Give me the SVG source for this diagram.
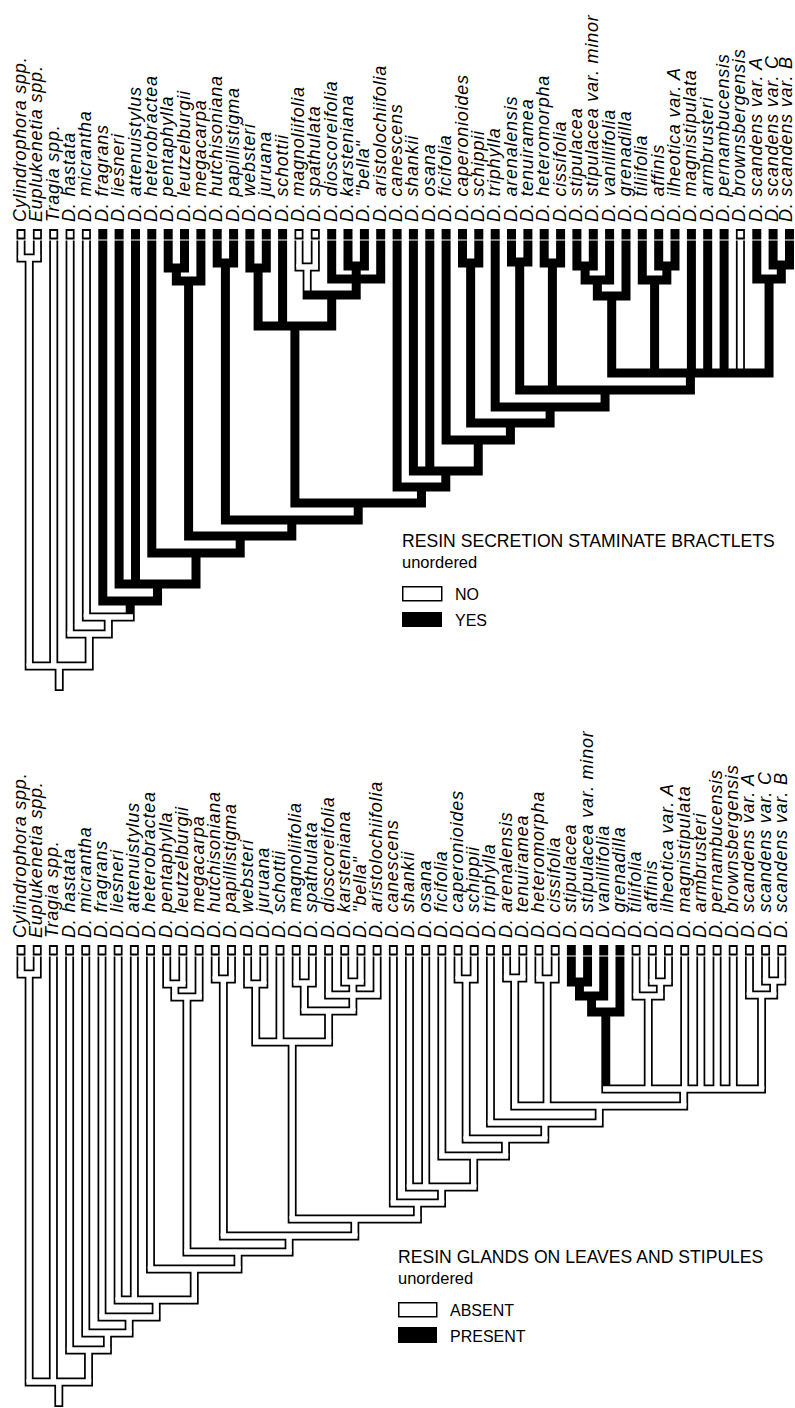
<svg xmlns="http://www.w3.org/2000/svg" width="795" height="1408" viewBox="0 0 795 1408">
<style>
.k{fill:none;stroke:#000;stroke-width:9;stroke-linecap:square}
.w{fill:none;stroke:#fff;stroke-width:5.5;stroke-linecap:butt}
.wb{fill:none;stroke:#fff;stroke-width:5.5;stroke-linecap:square}
.gap{fill:none;stroke:#fff;stroke-width:1.2}
.lab{font-family:"Liberation Sans",Arial,sans-serif;font-style:italic;font-size:18px;letter-spacing:0.8px;fill:#000}
.lt{font-family:"Liberation Sans",Arial,sans-serif;font-size:17.6px;fill:#000}
.lu{font-family:"Liberation Sans",Arial,sans-serif;font-size:16.5px;fill:#000}
.ls{font-family:"Liberation Sans",Arial,sans-serif;font-size:16px;fill:#000}
.bx{fill:#fff;stroke:#000;stroke-width:1.5}
</style>
<defs>
<path id="geom" class="k" d="M21,233.5V258M37.4,233.5V258M53.7,233.5V666M70.1,233.5V634M86.4,233.5V617M102.8,233.5V601M119.1,233.5V584M135.5,233.5V584M151.8,233.5V553M168.2,233.5V268M184.5,233.5V268M200.9,233.5V281M217.2,233.5V263M233.6,233.5V263M249.9,233.5V268M266.3,233.5V268M282.6,233.5V326M299,233.5V267M315.3,233.5V267M331.7,233.5V279M348,233.5V266M364.4,233.5V266M380.7,233.5V279M397.1,233.5V487M413.4,233.5V471M429.8,233.5V471M446.1,233.5V440M462.5,233.5V263M478.8,233.5V263M495.2,233.5V407M511.5,233.5V262M527.9,233.5V262M544.2,233.5V263M560.6,233.5V263M576.9,233.5V266M593.3,233.5V266M609.6,233.5V280M626,233.5V296M642.3,233.5V280M658.7,233.5V266M675,233.5V266M691.4,233.5V373M707.7,233.5V373M724.1,233.5V373M740.4,233.5V373M756.8,233.5V279M773.1,233.5V265M789.5,233.5V265
M21,258H37.4M29.2,258V666M168.2,268H184.5M176.35,268V281M176.35,281H200.9M188.6,281V536M217.2,263H233.6M225.4,263V520M249.9,268H266.3M258.1,268V326M299,267H315.3M307.15,267V295M348,266H364.4M356.2,266V279M331.7,279H380.7M356.2,279V295M307.15,295H356.2M331.7,295V326M258.1,326H331.7M294.9,326V503M462.5,263H478.8M470.65,263V423M511.5,262H527.9M519.7,262V390M544.2,263H560.6M552.4,263V390M576.9,266H593.3M585.1,266V280M585.1,280H609.6M597.35,280V296M597.35,296H626M611.7,296V373M658.7,266H675M666.85,266V280M642.3,280H666.85M654.6,280V373M773.1,265H789.5M781.3,265V279M756.8,279H781.3M769.05,279V373M611.7,373H769.05M690.4,373V390M519.7,390H690.4M605.05,390V407M495.2,407H605.05M550.1,407V423M470.65,423H550.1M510.4,423V440M446.1,440H510.4M478.25,440V471M413.4,471H478.25M445.8,471V487M397.1,487H445.8M421.45,487V503M294.9,503H421.45M358.2,503V520M225.4,520H358.2M291.8,520V536M188.6,536H291.8M240.2,536V553M151.8,553H240.2M196,553V584M119.1,584H196M157.55,584V601M102.8,601H157.55M130.2,601V617M86.4,617H130.2M108.3,617V634M70.1,634H108.3M89.2,634V666M29.2,666H89.2M59.2,666V686.5"/>
</defs>
<rect width="795" height="1408" fill="#fff"/>
<g id="connectors">
<g id="branches-top">
<use href="#geom"/>
<path class="w" d="M21,231V237.5M21,240V258M37.4,231V237.5M37.4,240V258M29.2,258V666M53.7,231V237.5M53.7,240V666M70.1,231V237.5M70.1,240V634M86.4,231V237.5M86.4,240V617M108.3,617V634M89.2,634V666M59.2,666V689.2M299,231V237.5M299,240V267M315.3,231V237.5M315.3,240V267M307.15,267V290.5M740.4,231V237.5M740.4,240V368.5"/>
<path class="wb" d="M21,258H37.4M29.2,666H89.2M70.1,634H108.3M86.4,617H130.2M299,267H315.3"/>
<path class="gap" d="M14,240H795"/>
</g>
<g id="branches-bottom" transform="translate(21,716) scale(0.99,1) translate(-21,0)">
<use href="#geom"/>
<path class="w" d="M21,231V237.5M21,240V258M37.4,231V237.5M37.4,240V258M53.7,231V237.5M53.7,240V666M70.1,231V237.5M70.1,240V634M86.4,231V237.5M86.4,240V617M102.8,231V237.5M102.8,240V601M119.1,231V237.5M119.1,240V584M135.5,231V237.5M135.5,240V584M151.8,231V237.5M151.8,240V553M168.2,231V237.5M168.2,240V268M184.5,231V237.5M184.5,240V268M200.9,231V237.5M200.9,240V281M217.2,231V237.5M217.2,240V263M233.6,231V237.5M233.6,240V263M249.9,231V237.5M249.9,240V268M266.3,231V237.5M266.3,240V268M282.6,231V237.5M282.6,240V326M299,231V237.5M299,240V267M315.3,231V237.5M315.3,240V267M331.7,231V237.5M331.7,240V279M348,231V237.5M348,240V266M364.4,231V237.5M364.4,240V266M380.7,231V237.5M380.7,240V279M397.1,231V237.5M397.1,240V487M413.4,231V237.5M413.4,240V471M429.8,231V237.5M429.8,240V471M446.1,231V237.5M446.1,240V440M462.5,231V237.5M462.5,240V263M478.8,231V237.5M478.8,240V263M495.2,231V237.5M495.2,240V407M511.5,231V237.5M511.5,240V262M527.9,231V237.5M527.9,240V262M544.2,231V237.5M544.2,240V263M560.6,231V237.5M560.6,240V263M642.3,231V237.5M642.3,240V280M658.7,231V237.5M658.7,240V266M675,231V237.5M675,240V266M691.4,231V237.5M691.4,240V373M707.7,231V237.5M707.7,240V373M724.1,231V237.5M724.1,240V373M740.4,231V237.5M740.4,240V373M756.8,231V237.5M756.8,240V279M773.1,231V237.5M773.1,240V265M789.5,231V237.5M789.5,240V265
M29.2,258V666M176.35,268V281M188.6,281V536M225.4,263V520M258.1,268V326M307.15,267V295M356.2,266V295M331.7,295V326M294.9,326V503M470.65,263V423M519.7,262V390M552.4,263V390M666.85,266V280M654.6,280V373M781.3,265V279M769.05,279V373M690.4,373V390M605.05,390V407M550.1,407V423M510.4,423V440M478.25,440V471M445.8,471V487M421.45,487V503M358.2,503V520M291.8,520V536M240.2,536V553M196,553V584M157.55,584V601M130.2,601V617M108.3,617V634M89.2,634V666M59.2,666V689.2"/>
<path class="wb" d="M21,258H37.4M168.2,268H184.5M176.35,281H200.9M217.2,263H233.6M249.9,268H266.3M299,267H315.3M348,266H364.4M331.7,279H380.7M307.15,295H356.2M258.1,326H331.7M462.5,263H478.8M511.5,262H527.9M544.2,263H560.6M658.7,266H675M642.3,280H666.85M773.1,265H789.5M756.8,279H781.3M611.7,373H769.05M519.7,390H690.4M495.2,407H605.05M470.65,423H550.1M446.1,440H510.4M413.4,471H478.25M397.1,487H445.8M294.9,503H421.45M225.4,520H358.2M188.6,536H291.8M151.8,553H240.2M119.1,584H196M102.8,601H157.55M86.4,617H130.2M70.1,634H108.3M29.2,666H89.2"/>
<path class="gap" d="M14,240H800"/>
</g>
</g>
<g id="labels-top" class="lab">
<g id="t01"><text transform="translate(26,222) rotate(-90)">Cylindrophora spp.</text></g>
<g id="t02"><text transform="translate(42.4,222) rotate(-90)">Euplukenetia spp.</text></g>
<g id="t03"><text transform="translate(58.7,222) rotate(-90)">Tragia spp.</text></g>
<g id="t04"><text transform="translate(75.1,222) rotate(-90)">D. hastata</text></g>
<g id="t05"><text transform="translate(91.4,222) rotate(-90)">D. micrantha</text></g>
<g id="t06"><text transform="translate(107.8,222) rotate(-90)">D. fragrans</text></g>
<g id="t07"><text transform="translate(124.1,222) rotate(-90)">D. liesneri</text></g>
<g id="t08"><text transform="translate(140.5,222) rotate(-90)">D. attenuistylus</text></g>
<g id="t09"><text transform="translate(156.8,222) rotate(-90)">D. heterobractea</text></g>
<g id="t10"><text transform="translate(173.2,222) rotate(-90)">D. pentaphylla</text></g>
<g id="t11"><text transform="translate(189.5,222) rotate(-90)">D. leutzelburgii</text></g>
<g id="t12"><text transform="translate(205.9,222) rotate(-90)">D. megacarpa</text></g>
<g id="t13"><text transform="translate(222.2,222) rotate(-90)">D. hutchisoniana</text></g>
<g id="t14"><text transform="translate(238.6,222) rotate(-90)">D. papillistigma</text></g>
<g id="t15"><text transform="translate(254.9,222) rotate(-90)">D. websteri</text></g>
<g id="t16"><text transform="translate(271.3,222) rotate(-90)">D. juruana</text></g>
<g id="t17"><text transform="translate(287.6,222) rotate(-90)">D. schottii</text></g>
<g id="t18"><text transform="translate(304,222) rotate(-90)">D. magnoliifolia</text></g>
<g id="t19"><text transform="translate(320.3,222) rotate(-90)">D. spathulata</text></g>
<g id="t20"><text transform="translate(336.7,222) rotate(-90)">D. dioscoreifolia</text></g>
<g id="t21"><text transform="translate(353,222) rotate(-90)">D. karsteniana</text></g>
<g id="t22"><text transform="translate(369.4,222) rotate(-90)">D. "bella"</text></g>
<g id="t23"><text transform="translate(385.7,222) rotate(-90)">D. aristolochiifolia</text></g>
<g id="t24"><text transform="translate(402.1,222) rotate(-90)">D. canescens</text></g>
<g id="t25"><text transform="translate(418.4,222) rotate(-90)">D. shankii</text></g>
<g id="t26"><text transform="translate(434.8,222) rotate(-90)">D. osana</text></g>
<g id="t27"><text transform="translate(451.1,222) rotate(-90)">D. ficifolia</text></g>
<g id="t28"><text transform="translate(467.5,222) rotate(-90)">D. caperonioides</text></g>
<g id="t29"><text transform="translate(483.8,222) rotate(-90)">D. schippii</text></g>
<g id="t30"><text transform="translate(500.2,222) rotate(-90)">D. triphylla</text></g>
<g id="t31"><text transform="translate(516.5,222) rotate(-90)">D. arenalensis</text></g>
<g id="t32"><text transform="translate(532.9,222) rotate(-90)">D. tenuiramea</text></g>
<g id="t33"><text transform="translate(549.2,222) rotate(-90)">D. heteromorpha</text></g>
<g id="t34"><text transform="translate(565.6,222) rotate(-90)">D. cissifolia</text></g>
<g id="t35"><text transform="translate(581.9,222) rotate(-90)">D. stipulacea</text></g>
<g id="t36"><text transform="translate(598.3,222) rotate(-90)">D. stipulacea var. minor</text></g>
<g id="t37"><text transform="translate(614.6,222) rotate(-90)">D. vanillifolia</text></g>
<g id="t38"><text transform="translate(631,222) rotate(-90)">D. grenadilla</text></g>
<g id="t39"><text transform="translate(647.3,222) rotate(-90)">D. tiliifolia</text></g>
<g id="t40"><text transform="translate(663.7,222) rotate(-90)">D. affinis</text></g>
<g id="t41"><text transform="translate(680,222) rotate(-90)">D. ilheotica var. A</text></g>
<g id="t42"><text transform="translate(696.4,222) rotate(-90)">D. magnistipulata</text></g>
<g id="t43"><text transform="translate(712.7,222) rotate(-90)">D. armbrusteri</text></g>
<g id="t44"><text transform="translate(729.1,222) rotate(-90)">D. pernambucensis</text></g>
<g id="t45"><text transform="translate(745.4,222) rotate(-90)">D. brownsbergensis</text></g>
<g id="t46"><text transform="translate(761.8,222) rotate(-90)">D. scandens var. A</text></g>
<g id="t47"><text transform="translate(777.6,222) rotate(-90)">D. scandens var. C</text></g>
<g id="t48"><text transform="translate(792.2,222) rotate(-90)">D. scandens var. B</text></g>
</g>
<g id="labels-bottom" class="lab" transform="translate(21,716) scale(0.99,1) translate(-21,0)">
<g id="b01"><text transform="translate(26,222) rotate(-90)">Cylindrophora spp.</text></g>
<g id="b02"><text transform="translate(42.4,222) rotate(-90)">Euplukenetia spp.</text></g>
<g id="b03"><text transform="translate(58.7,222) rotate(-90)">Tragia spp.</text></g>
<g id="b04"><text transform="translate(75.1,222) rotate(-90)">D. hastata</text></g>
<g id="b05"><text transform="translate(91.4,222) rotate(-90)">D. micrantha</text></g>
<g id="b06"><text transform="translate(107.8,222) rotate(-90)">D. fragrans</text></g>
<g id="b07"><text transform="translate(124.1,222) rotate(-90)">D. liesneri</text></g>
<g id="b08"><text transform="translate(140.5,222) rotate(-90)">D. attenuistylus</text></g>
<g id="b09"><text transform="translate(156.8,222) rotate(-90)">D. heterobractea</text></g>
<g id="b10"><text transform="translate(173.2,222) rotate(-90)">D. pentaphylla</text></g>
<g id="b11"><text transform="translate(189.5,222) rotate(-90)">D. leutzelburgii</text></g>
<g id="b12"><text transform="translate(205.9,222) rotate(-90)">D. megacarpa</text></g>
<g id="b13"><text transform="translate(222.2,222) rotate(-90)">D. hutchisoniana</text></g>
<g id="b14"><text transform="translate(238.6,222) rotate(-90)">D. papillistigma</text></g>
<g id="b15"><text transform="translate(254.9,222) rotate(-90)">D. websteri</text></g>
<g id="b16"><text transform="translate(271.3,222) rotate(-90)">D. juruana</text></g>
<g id="b17"><text transform="translate(287.6,222) rotate(-90)">D. schottii</text></g>
<g id="b18"><text transform="translate(304,222) rotate(-90)">D. magnoliifolia</text></g>
<g id="b19"><text transform="translate(320.3,222) rotate(-90)">D. spathulata</text></g>
<g id="b20"><text transform="translate(336.7,222) rotate(-90)">D. dioscoreifolia</text></g>
<g id="b21"><text transform="translate(353,222) rotate(-90)">D. karsteniana</text></g>
<g id="b22"><text transform="translate(369.4,222) rotate(-90)">D. "bella"</text></g>
<g id="b23"><text transform="translate(385.7,222) rotate(-90)">D. aristolochiifolia</text></g>
<g id="b24"><text transform="translate(402.1,222) rotate(-90)">D. canescens</text></g>
<g id="b25"><text transform="translate(418.4,222) rotate(-90)">D. shankii</text></g>
<g id="b26"><text transform="translate(434.8,222) rotate(-90)">D. osana</text></g>
<g id="b27"><text transform="translate(451.1,222) rotate(-90)">D. ficifolia</text></g>
<g id="b28"><text transform="translate(467.5,222) rotate(-90)">D. caperonioides</text></g>
<g id="b29"><text transform="translate(483.8,222) rotate(-90)">D. schippii</text></g>
<g id="b30"><text transform="translate(500.2,222) rotate(-90)">D. triphylla</text></g>
<g id="b31"><text transform="translate(516.5,222) rotate(-90)">D. arenalensis</text></g>
<g id="b32"><text transform="translate(532.9,222) rotate(-90)">D. tenuiramea</text></g>
<g id="b33"><text transform="translate(549.2,222) rotate(-90)">D. heteromorpha</text></g>
<g id="b34"><text transform="translate(565.6,222) rotate(-90)">D. cissifolia</text></g>
<g id="b35"><text transform="translate(581.9,222) rotate(-90)">D. stipulacea</text></g>
<g id="b36"><text transform="translate(598.3,222) rotate(-90)">D. stipulacea var. minor</text></g>
<g id="b37"><text transform="translate(614.6,222) rotate(-90)">D. vanillifolia</text></g>
<g id="b38"><text transform="translate(631,222) rotate(-90)">D. grenadilla</text></g>
<g id="b39"><text transform="translate(647.3,222) rotate(-90)">D. tiliifolia</text></g>
<g id="b40"><text transform="translate(663.7,222) rotate(-90)">D. affinis</text></g>
<g id="b41"><text transform="translate(680,222) rotate(-90)">D. ilheotica var. A</text></g>
<g id="b42"><text transform="translate(696.4,222) rotate(-90)">D. magnistipulata</text></g>
<g id="b43"><text transform="translate(712.7,222) rotate(-90)">D. armbrusteri</text></g>
<g id="b44"><text transform="translate(729.1,222) rotate(-90)">D. pernambucensis</text></g>
<g id="b45"><text transform="translate(745.4,222) rotate(-90)">D. brownsbergensis</text></g>
<g id="b46"><text transform="translate(761.8,222) rotate(-90)">D. scandens var. A</text></g>
<g id="b47"><text transform="translate(778.1,222) rotate(-90)">D. scandens var. C</text></g>
<g id="b48"><text transform="translate(794.5,222) rotate(-90)">D. scandens var. B</text></g>
</g>
<g id="legend-top">
<text class="lt" x="402" y="547">RESIN SECRETION STAMINATE BRACTLETS</text>
<text class="lu" x="402" y="568">unordered</text>
<rect class="bx" x="402.75" y="586.75" width="39" height="14"/>
<text class="ls" x="455" y="600">NO</text>
<rect x="402" y="612" width="40" height="15" fill="#000"/>
<text class="ls" x="455" y="626">YES</text>
</g>
<g id="legend-bottom">
<text class="lt" x="398" y="1263">RESIN GLANDS ON LEAVES AND STIPULES</text>
<text class="lu" x="398" y="1284">unordered</text>
<rect class="bx" x="398.75" y="1302.75" width="38" height="14"/>
<text class="ls" x="450" y="1316">ABSENT</text>
<rect x="398" y="1327" width="39" height="16" fill="#000"/>
<text class="ls" x="450" y="1342">PRESENT</text>
</g>
</svg>
